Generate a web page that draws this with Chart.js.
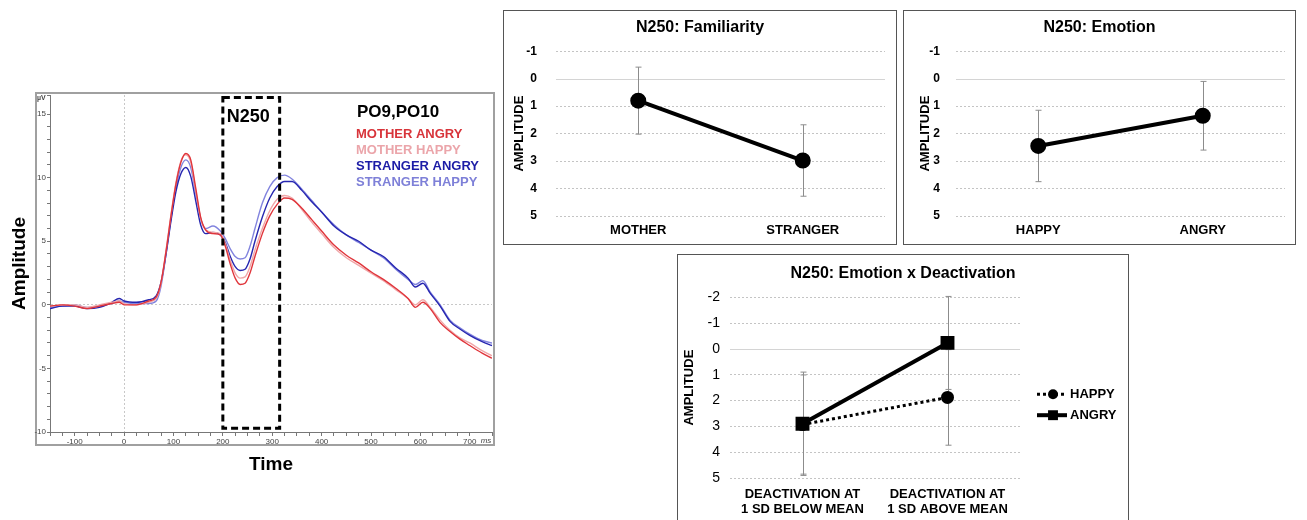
<!DOCTYPE html>
<html>
<head>
<meta charset="utf-8">
<script src="https://cdn.jsdelivr.net/npm/chart.js@4.4.1/dist/chart.umd.min.js"></script>
<style>
body{margin:0;background:#fff;width:1307px;height:520px;overflow:hidden;position:relative}
.box{position:absolute;border:1px solid #555;background:#fff;overflow:hidden}
canvas{display:block}
</style>
</head>
<body>
<canvas id="erp" width="500" height="400" style="position:absolute;left:0;top:85px"></canvas>
<div class="box" style="left:503px;top:10px;width:392px;height:233px"><canvas id="fam" width="392" height="233"></canvas></div>
<div class="box" style="left:903px;top:10px;width:391px;height:233px"><canvas id="emo" width="391" height="233"></canvas></div>
<div class="box" style="left:677px;top:254px;width:450px;height:290px"><canvas id="deact" width="450" height="290"></canvas></div>
<script>
// ---- ERP waveforms (PO9,PO10), µV ----
const erpTimes = [-150,-125,-100,-75,-50,-25,-10,0,25,50,65,75,85,95,105,115,125,135,145,155,165,180,195,205,215,225,235,245,255,265,280,295,310,325,340,360,380,400,425,450,475,500,525,550,575,590,605,620,640,660,680,700,725,745];
const motherAngry = [-0.1,0.0,-0.1,-0.3,-0.1,0.1,0.2,0.0,0.0,0.3,0.6,1.8,4.2,7.0,9.5,11.2,11.9,11.4,9.2,6.9,5.9,5.6,5.5,4.6,3.2,2.1,1.6,1.7,2.5,3.8,5.6,7.0,7.9,8.4,8.3,7.6,6.7,5.8,4.7,3.9,3.3,2.6,2.0,1.3,0.5,-0.2,0.2,-0.3,-1.4,-2.1,-2.7,-3.2,-3.8,-4.2];
const motherHappy = [-0.1,0.0,0.0,-0.2,0.0,0.2,0.3,0.1,0.0,0.2,0.5,1.7,4.3,7.1,9.6,11.3,11.8,11.2,9.0,6.8,5.9,5.7,5.6,4.8,3.5,2.5,2.1,2.2,3.0,4.3,6.0,7.4,8.3,8.6,8.4,7.5,6.5,5.6,4.5,3.7,3.1,2.5,1.9,1.2,0.5,0.0,0.4,-0.2,-1.2,-2.0,-2.6,-3.0,-3.6,-4.0];
const strangerAngry = [-0.3,-0.1,-0.1,-0.3,-0.2,0.2,0.5,0.3,0.2,0.4,0.7,1.8,4.0,6.6,8.9,10.3,10.8,10.1,8.2,6.3,5.6,5.7,5.5,4.9,3.8,3.0,2.7,2.8,3.6,5.0,6.9,8.4,9.3,9.7,9.7,9.0,8.1,7.3,6.2,5.5,5.0,4.3,3.8,2.9,2.1,1.4,1.7,0.9,-0.1,-1.3,-1.9,-2.4,-2.9,-3.2];
const strangerHappy = [-0.2,-0.1,0.0,-0.2,-0.1,0.1,0.3,0.2,0.1,0.1,0.3,1.5,4.0,6.8,9.2,10.8,11.4,10.8,8.8,6.8,6.0,6.2,5.8,5.2,4.4,3.8,3.6,3.7,4.6,6.0,8.0,9.3,10.0,10.2,9.9,9.1,8.2,7.3,6.3,5.5,4.9,4.3,3.7,2.8,2.0,1.6,1.9,1.0,0.0,-1.2,-1.8,-2.3,-2.8,-3.0];
const n250Window = [200, 315];

// ---- N250 means and error bars ----
const famLabels = ['MOTHER', 'STRANGER'];
const famMeans = [0.8, 2.98];
const famErrors = [1.22, 1.3];

const emoLabels = ['HAPPY', 'ANGRY'];
const emoMeans = [2.45, 1.35];
const emoErrors = [1.3, 1.25];

const deactLabels = [['DEACTIVATION AT', '1 SD BELOW MEAN'], ['DEACTIVATION AT', '1 SD ABOVE MEAN']];
const deactHappy = [2.93, 1.88];
const deactHappyErr = [1.92, 1.85];
const deactAngry = [2.9, -0.23];
const deactAngryErr = [2.0, 1.8];

Chart.defaults.font.family = "'Liberation Sans', Arial, sans-serif";
Chart.defaults.color = '#000';
Chart.defaults.animation = false;

function toPoints(arr) { return erpTimes.map((t, i) => ({x: t, y: arr[i]})); }

// frame, N250 box, µV / ms and the colour legend of the waveform plot
const erpDecor = {
  id: 'erpDecor',
  beforeDraw(chart) {
    const {ctx, chartArea: a} = chart;
    ctx.save();
    ctx.strokeStyle = '#a0a0a0';
    ctx.lineWidth = 2;
    ctx.strokeRect(a.left - 14, a.top - 2, a.right - a.left + 16, a.bottom - a.top + 15);
    ctx.restore();
  },
  afterDraw(chart) {
    const {ctx, chartArea: a, scales: {x, y}} = chart;
    ctx.save();
    const x1 = x.getPixelForValue(n250Window[0]), x2 = x.getPixelForValue(n250Window[1]);
    const y1 = y.getPixelForValue(16.3), y2 = y.getPixelForValue(-9.7);
    ctx.strokeStyle = '#000';
    ctx.lineWidth = 3;
    ctx.setLineDash([7, 4]);
    ctx.strokeRect(x1, y1, x2 - x1, y2 - y1);
    ctx.setLineDash([]);
    ctx.fillStyle = '#000';
    ctx.font = "bold 18px 'Liberation Sans', Arial";
    ctx.textBaseline = 'middle';
    ctx.fillText('N250', x1 + 4, y1 + 19);

    ctx.font = "bold 7px 'Liberation Sans', Arial";
    ctx.fillStyle = '#444';
    ctx.fillText('µV', a.left - 13, a.top + 3);
    ctx.font = "italic 8px 'Liberation Sans', Arial";
    ctx.textAlign = 'center';
    ctx.fillText('ms', a.right - 6, a.bottom + 9);

    ctx.textAlign = 'left';
    ctx.fillStyle = '#000';
    ctx.font = "bold 17px 'Liberation Sans', Arial";
    ctx.fillText('PO9,PO10', a.left + 307, a.top + 17);
    ctx.font = "bold 13px 'Liberation Sans', Arial";
    chart.data.datasets.forEach((ds, i) => {
      ctx.fillStyle = ds.textColor;
      ctx.fillText(ds.label, a.left + 306, a.top + 39 + i * 16);
    });
    ctx.restore();
  }
};

new Chart(document.getElementById('erp'), {
  type: 'line',
  data: {
    datasets: [
      {label: 'MOTHER ANGRY', data: toPoints(motherAngry), borderColor: '#e0353b', textColor: '#d8343a'},
      {label: 'MOTHER HAPPY', data: toPoints(motherHappy), borderColor: '#f0a6a8', textColor: '#eba5aa'},
      {label: 'STRANGER ANGRY', data: toPoints(strangerAngry), borderColor: '#2626b0', textColor: '#1c1ca6'},
      {label: 'STRANGER HAPPY', data: toPoints(strangerHappy), borderColor: '#8284de', textColor: '#7e80d8'}
    ]
  },
  options: {
    responsive: false,
    layout: {padding: {top: 10, right: 8, left: 0, bottom: 0}},
    plugins: {legend: {display: false}, tooltip: {enabled: false}},
    elements: {point: {radius: 0}, line: {borderWidth: 1.4, cubicInterpolationMode: 'monotone'}},
    scales: {
      x: {
        type: 'linear', min: -150, max: 745,
        ticks: {stepSize: 25, autoSkip: false, maxRotation: 0, padding: 1, color: '#444', font: {size: 8},
          callback: v => (v % 100 === 0 && v > -150) ? String(v) : ''},
        grid: {color: c => (c.tick && c.tick.value === 0) ? '#c8c8c8' : 'rgba(0,0,0,0)', tickColor: '#777', tickLength: 4},
        border: {color: '#777', dash: [2, 2]},
        title: {display: true, text: 'Time', color: '#000', font: {size: 19, weight: 'bold'}, padding: {top: 0, bottom: 9}},
        afterFit: a => { a.height = 53; }
      },
      y: {
        min: -10, max: 16.5,
        ticks: {stepSize: 1, autoSkip: false, padding: 1, color: '#444', font: {size: 8},
          callback: v => (Number.isInteger(v) && v % 5 === 0) ? String(v) : ''},
        grid: {color: c => (c.tick && c.tick.value === 0) ? '#c8c8c8' : 'rgba(0,0,0,0)', tickColor: '#777', tickLength: 3},
        border: {color: '#777', dash: [2, 2]},
        title: {display: true, text: 'Amplitude', color: '#000', font: {size: 19, weight: 'bold'}, padding: {top: 8, bottom: 0}},
        afterFit: a => { a.width = 50; }
      }
    }
  },
  plugins: [erpDecor]
});

// gray error bars + solid zero line for the small charts
const errorBars = {
  id: 'errorBars',
  beforeDatasetsDraw(chart) {
    const {ctx, chartArea: a, scales: {y}} = chart;
    ctx.save();
    ctx.strokeStyle = '#d4d4d4';
    ctx.lineWidth = 1;
    const y0 = Math.round(y.getPixelForValue(0)) + 0.5;
    ctx.beginPath(); ctx.moveTo(a.left, y0); ctx.lineTo(a.right, y0); ctx.stroke();
    ctx.strokeStyle = '#8c8c8c';
    chart.data.datasets.forEach((ds, di) => {
      if (!ds.errors) return;
      chart.getDatasetMeta(di).data.forEach((pt, i) => {
        const top = y.getPixelForValue(ds.data[i] - ds.errors[i]);
        const bot = y.getPixelForValue(ds.data[i] + ds.errors[i]);
        const px = Math.round(pt.x) + 0.5;
        ctx.beginPath();
        ctx.moveTo(px, top); ctx.lineTo(px, bot);
        ctx.moveTo(px - 3, top); ctx.lineTo(px + 3, top);
        ctx.moveTo(px - 3, bot); ctx.lineTo(px + 3, bot);
        ctx.stroke();
      });
    });
    ctx.restore();
  }
};

// legend to the right of the interaction chart
const sideLegend = {
  id: 'sideLegend',
  afterDraw(chart) {
    const {ctx, chartArea: a} = chart;
    chart.data.datasets.forEach((ds, i) => {
      const y = a.top + 97 + i * 21, x0 = a.right + 17;
      ctx.save();
      ctx.strokeStyle = '#000';
      ctx.fillStyle = '#000';
      ctx.lineWidth = ds.borderWidth;
      ctx.setLineDash(ds.borderDash || []);
      ctx.beginPath(); ctx.moveTo(x0, y); ctx.lineTo(x0 + 30, y); ctx.stroke();
      ctx.setLineDash([]);
      Chart.helpers.drawPoint(ctx, {pointStyle: ds.pointStyle, radius: ds.pointRadius, borderWidth: 0, rotation: 0}, x0 + 16, y);
      ctx.font = "bold 13px 'Liberation Sans', Arial";
      ctx.textBaseline = 'middle';
      ctx.fillText(ds.label, x0 + 33, y);
      ctx.restore();
    });
  }
};

function smallChart(id, labels, datasets, title, cfg) {
  return new Chart(document.getElementById(id), {
    type: 'line',
    data: {labels: labels, datasets: datasets},
    options: {
      responsive: false,
      layout: {padding: 0},
      plugins: {
        legend: {display: false}, tooltip: {enabled: false},
        title: {display: true, text: title, color: '#000', font: {size: 16, weight: 'bold'}, padding: cfg.titlePad}
      },
      scales: {
        x: {
          type: 'category', offset: true,
          grid: {display: false, drawTicks: false}, border: {display: false},
          ticks: {padding: cfg.xPad, maxRotation: 0, autoSkip: false, color: '#000', font: {size: 13, weight: 'bold', lineHeight: 1.15}},
          afterFit: a => { a.height = cfg.xHeight; }
        },
        y: {
          reverse: true, min: cfg.min, max: 5,
          ticks: {stepSize: 1, padding: cfg.yPad, color: '#000', font: cfg.tickFont},
          grid: {color: c => (c.tick && c.tick.value === 0) ? 'rgba(0,0,0,0)' : '#c4c4c4', drawTicks: false},
          border: {display: false, dash: [2, 2]},
          title: {display: true, text: 'AMPLITUDE', color: '#000', font: {size: 13, weight: 'bold'}, padding: {top: cfg.titleLeft, bottom: 0}},
          afterFit: a => { a.width = 52; }
        },
        // empty right-hand strip (room for the legend) so the title stays centred on the box
        side: {
          type: 'linear', position: 'right', display: true,
          grid: {display: false, drawTicks: false}, border: {display: false}, ticks: {display: false},
          afterFit: a => { a.width = cfg.right; }
        }
      }
    },
    plugins: cfg.plugins
  });
}

const thickLine = {borderColor: '#000', backgroundColor: '#000', borderWidth: 4, pointRadius: 6, pointBackgroundColor: '#000', pointBorderColor: '#000'};

smallChart('fam', famLabels,
  [Object.assign({label: 'N250', data: famMeans, errors: famErrors}, thickLine)],
  'N250: Familiarity',
  {right: 11, min: -1, xPad: 7, xHeight: 28, yPad: 19, titleLeft: 8, tickFont: {size: 12, weight: 'bold'},
   titlePad: {top: 7, bottom: 14}, plugins: [errorBars]});

smallChart('emo', emoLabels,
  [Object.assign({label: 'N250', data: emoMeans, errors: emoErrors}, thickLine)],
  'N250: Emotion',
  {right: 8, min: -1, xPad: 7, xHeight: 28, yPad: 16, titleLeft: 14, tickFont: {size: 12, weight: 'bold'},
   titlePad: {top: 7, bottom: 14}, plugins: [errorBars]});

smallChart('deact', deactLabels,
  [
    {label: 'HAPPY', data: deactHappy, errors: deactHappyErr, borderColor: '#000', backgroundColor: '#000', borderWidth: 3,
     borderDash: [3, 3], pointStyle: 'circle', pointRadius: 5, pointBackgroundColor: '#000', pointBorderColor: '#000'},
    {label: 'ANGRY', data: deactAngry, errors: deactAngryErr, borderColor: '#000', backgroundColor: '#000', borderWidth: 4,
     pointStyle: 'rect', pointRadius: 7, pointBackgroundColor: '#000', pointBorderColor: '#000'}
  ],
  'N250: Emotion x Deactivation',
  {right: 108, min: -2, xPad: 9, xHeight: 67, yPad: 10, titleLeft: 4, tickFont: {size: 14},
   titlePad: {top: 9, bottom: 14}, plugins: [errorBars, sideLegend]});
</script>
</body>
</html>
